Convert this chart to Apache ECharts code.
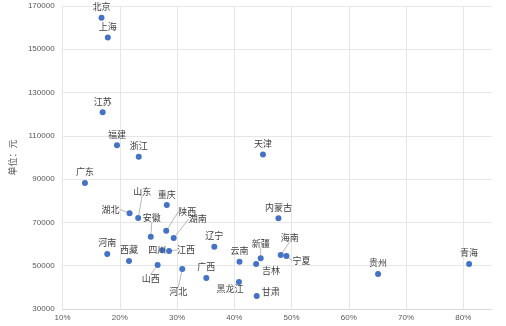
<!DOCTYPE html>
<html>
<head>
<meta charset="utf-8">
<style>
  html, body { margin: 0; padding: 0; background: #fff; }
  #chart { width: 506px; height: 326px; }
</style>
<script src="https://cdn.jsdelivr.net/npm/echarts@6/dist/echarts.min.js"></script>
</head>
<body>
<div id="chart"></div>
<script>
// Provinces: share (x) versus per-capita value in yuan (y)
const provinces = ['北京','上海','江苏','福建','浙江','广东','重庆','湖北','山东','安徽',
  '陕西','湖南','四川','江西','河南','西藏','山西','河北','广西','辽宁',
  '云南','黑龙江','新疆','吉林','甘肃','内蒙古','海南','宁夏','天津','贵州','青海'];
const shareValues = [0.168,0.179,0.170,0.195,0.233,0.139,0.282,0.217,0.232,0.254,
  0.281,0.294,0.274,0.286,0.178,0.216,0.266,0.309,0.351,0.365,
  0.409,0.408,0.446,0.438,0.439,0.477,0.481,0.491,0.450,0.651,0.810];
const yuanValues = [164600,155400,120900,105700,100300,88200,78000,74200,72000,63400,
  66100,62800,57200,56800,55400,52200,50300,48500,44300,58800,
  51800,42500,53500,50800,36000,71900,54900,54500,101400,46200,50800];
const xTicks = { min: 0.1, max: 0.85, step: 0.1 };
const yTicks = { min: 30000, max: 170000, step: 20000 };

// label placement relative to each point (pixels), and which labels get a leader line
const labelOffset = {
  '湖北': [-19, -4], '山东': [4, -27], '安徽': [1, -19], '陕西': [21, -19], '湖南': [24, -19],
  '四川': [-5, -1], '江西': [17, -1], '山西': [-7, 14], '河北': [-4, 23], '黑龙江': [-9, 7],
  '新疆': [0, -15], '吉林': [15, 7], '甘肃': [14, -4], '海南': [9, -18], '宁夏': [15, 5]
};
const withLeader = ['湖北','山东','安徽','陕西','湖南','江西','山西','河北','新疆','海南','宁夏'];

const points = provinces.map((name, i) => ({
  name: name,
  value: [shareValues[i], yuanValues[i]],
  labelLine: { show: withLeader.includes(name) }
}));

const chart = echarts.init(document.getElementById('chart'), null, { renderer: 'canvas' });
chart.setOption({
  animation: false,
  grid: { left: 57, right: 14, top: 6, bottom: 17, containLabel: false },
  xAxis: {
    type: 'value',
    min: xTicks.min, max: xTicks.max, interval: xTicks.step,
    axisLine: { show: true, lineStyle: { color: '#d9d9d9', width: 1 } },
    axisTick: { show: false },
    axisLabel: {
      showMaxLabel: false,
      color: '#595959', fontSize: 8, fontFamily: 'Liberation Sans', margin: 5,
      formatter: v => Math.round(v * 100) + '%'
    },
    splitLine: { show: true, showMaxLine: false, lineStyle: { color: '#e6e6e6', width: 1 } }
  },
  yAxis: {
    type: 'value',
    min: yTicks.min, max: yTicks.max, interval: yTicks.step,
    name: '单位：元', nameLocation: 'middle', nameGap: 43, nameRotate: 90,
    nameTextStyle: { color: '#595959', fontSize: 9, fontFamily: 'Noto Sans CJK SC' },
    axisLine: { show: false },
    axisTick: { show: false },
    axisLabel: {
      color: '#595959', fontSize: 8, fontFamily: 'Liberation Sans', margin: 8,
      formatter: v => String(v)
    },
    splitLine: { show: true, lineStyle: { color: '#e6e6e6', width: 1 } }
  },
  series: [{
    type: 'scatter',
    data: points,
    symbol: 'circle',
    symbolSize: 6,
    itemStyle: { color: '#4472C4', opacity: 1 },
    label: {
      show: true,
      position: 'inside',
      formatter: p => p.name,
      color: '#404040',
      fontSize: 9,
      fontFamily: 'Noto Sans CJK SC'
    },
    labelLine: { show: false, lineStyle: { color: '#a6a6a6', width: 0.8 } },
    labelLayout: function (params) {
      const name = provinces[params.dataIndex];
      const off = labelOffset[name] || [0, -11];
      return { dx: off[0], dy: off[1] };
    }
  }]
});
</script>
</body>
</html>
